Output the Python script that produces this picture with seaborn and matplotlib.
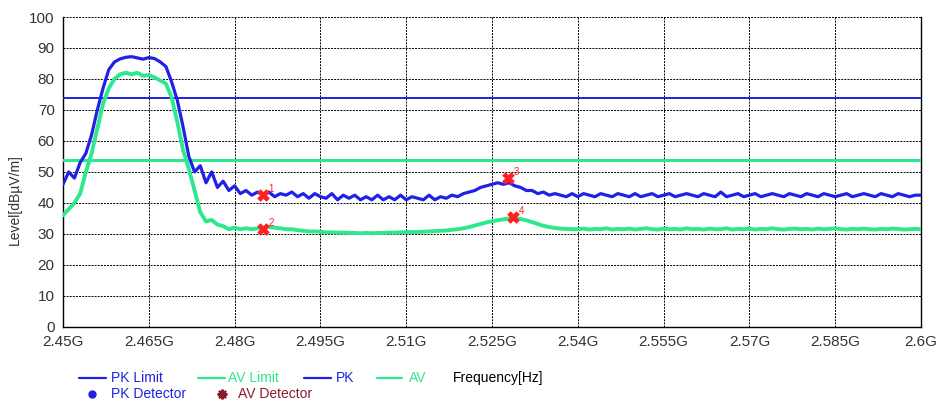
"""Spectrum scan plot: PK / AV level vs frequency with limits and detector marks."""

import numpy as np
import pandas as pd
import matplotlib
matplotlib.use("Agg")
import matplotlib.pyplot as plt
from matplotlib.lines import Line2D
import seaborn as sns

# frequency grid of the scan, GHz (1 MHz steps)
freq_start = 2.45
freq_step = 0.001
n_points = 151

pk_level = [
    46, 50, 48, 53, 56, 62, 70, 77, 83, 85.5,
    86.5, 87, 87.2, 86.8, 86.4, 86.9, 86.6, 85.5, 84, 79,
    73, 64.5, 55, 50, 52, 46.5, 50, 45, 47, 44,
    45.5, 43, 44, 42.5, 43.5, 42.5, 43.5, 42, 43, 42.5,
    43.5, 42, 43, 41.5, 43, 42, 41.5, 43, 41, 42.5,
    41.5, 42.5, 41, 42, 41, 42.5, 41, 42, 41, 42.5,
    41, 42, 41.5, 41, 42.5, 41, 42, 41.5, 42.5, 42,
    43, 43.5, 44, 45, 45.5, 46, 46.5, 46, 46.5, 45.5,
    45, 44, 44, 43, 43.5, 42.5, 43, 42.5, 42, 43,
    42, 43, 42.5, 42, 43, 42.5, 42, 43, 42.5, 42,
    43, 42, 42.5, 43, 42, 42.5, 43, 42, 42.5, 43,
    42.5, 42, 43, 42.5, 42, 43.5, 42, 42.5, 43, 42,
    42.5, 43, 42, 42.5, 43, 42.5, 42, 43, 42.5, 42,
    43, 42.5, 42, 43, 42.5, 42, 42.5, 43, 42, 42.5,
    43, 42.5, 42, 43, 42.5, 42, 43, 42.5, 42, 42.5,
    42.5,
]

av_level = [
    36, 38, 40, 43, 50, 56, 64, 72, 77, 80,
    81.5, 82, 81.5, 82, 81, 81.3, 80.5, 79.5, 78.5, 74,
    66, 57, 51, 44, 37, 34, 34.5, 33, 32.5, 31.5,
    32, 31.5, 31.8, 31.5, 31.8, 32, 32.3, 32, 31.8, 31.5,
    31.5, 31.2, 31, 30.8, 30.8, 30.7, 30.5, 30.5, 30.4, 30.4,
    30.3, 30.3, 30.2, 30.3, 30.2, 30.3, 30.3, 30.4, 30.4, 30.5,
    30.5, 30.6, 30.6, 30.7, 30.8, 30.9, 31, 31.1, 31.3, 31.5,
    31.8, 32.2, 32.7, 33.2, 33.7, 34.1, 34.4, 34.7, 35, 35,
    34.8, 34.4, 33.8, 33.2, 32.6, 32.2, 31.9, 31.7, 31.6, 31.5,
    31.5, 31.7, 31.4, 31.6, 31.5, 31.8, 31.4, 31.6, 31.5, 31.7,
    31.4, 31.6, 31.8, 31.5, 31.4, 31.7, 31.5, 31.6, 31.4, 31.8,
    31.5, 31.6, 31.4, 31.7, 31.5, 31.5, 31.8, 31.4, 31.6, 31.5,
    31.7, 31.4, 31.6, 31.5, 31.8, 31.5, 31.4, 31.6, 31.7, 31.5,
    31.6, 31.4, 31.7, 31.5, 31.6, 31.8, 31.5, 31.4, 31.6, 31.5,
    31.7, 31.5, 31.4, 31.6, 31.5, 31.7, 31.6, 31.4, 31.5, 31.6,
    31.5,
]

pk_limit = 74
av_limit = 54

# detector marks 1..4
mark_freq = [2.485, 2.485, 2.5278, 2.5287]
mark_level = [42.5, 31.5, 48, 35.5]
mark_label = ["1", "2", "3", "4"]

xtick_vals = [2.45, 2.465, 2.48, 2.495, 2.51, 2.525, 2.54, 2.555, 2.57, 2.585, 2.6]
xtick_labels = ["2.45G", "2.465G", "2.48G", "2.495G", "2.51G", "2.525G",
                "2.54G", "2.555G", "2.57G", "2.585G", "2.6G"]

PK_COLOR = "#2020e6"
AV_COLOR = "#2ee88e"
MARK_COLOR = "#ff2020"

sns.set_style("white")
plt.rcParams["font.family"] = ["Liberation Sans Narrow", "Liberation Sans", "DejaVu Sans"]

freq = [freq_start + i * freq_step for i in range(n_points)]
df = pd.DataFrame({"freq": freq, "PK": pk_level, "AV": av_level})
marks = pd.DataFrame({"freq": mark_freq, "level": mark_level})

fig = plt.figure(figsize=(9.36, 4.05), dpi=100)
ax = fig.add_axes([0.0673, 0.193, 0.9167, 0.765])

# limits
ax.axhline(pk_limit, color=PK_COLOR, lw=1.4, zorder=3)
ax.axhline(av_limit, color=AV_COLOR, lw=2.2, zorder=3)

# traces
sns.lineplot(data=df, x="freq", y="PK", ax=ax, color=PK_COLOR, lw=2.3, zorder=4)
sns.lineplot(data=df, x="freq", y="AV", ax=ax, color=AV_COLOR, lw=2.8, zorder=5)

# detector marks
sns.scatterplot(data=marks, x="freq", y="level", ax=ax, marker="X", s=70,
                color=MARK_COLOR, edgecolor=MARK_COLOR, linewidth=0.5, zorder=6)
for mx, my, lab in zip(mark_freq, mark_level, mark_label):
    ax.annotate(lab, (mx, my), xytext=(4, 2), textcoords="offset points",
                color=MARK_COLOR, fontsize=7, zorder=7)

ax.set_xlim(2.45, 2.6)
ax.set_ylim(0, 100)
ax.set_xticks(xtick_vals)
ax.set_xticklabels(xtick_labels)
ax.set_yticks(range(0, 101, 10))
ax.tick_params(axis="both", labelsize=11, colors="black", labelcolor="#333333",
               length=5, direction="inout", width=0.8)
ax.set_xlabel("")
ax.set_ylabel("")

ax.grid(True, color="black", lw=0.7, ls=(0, (2, 1.2)), zorder=1)
for side in ["left", "bottom", "right"]:
    ax.spines[side].set_visible(True)
    ax.spines[side].set_color("black")
    ax.spines[side].set_linewidth(1.0)
ax.spines["top"].set_visible(False)

fig.text(15 / 936, 1 - 200 / 405, "Level[dBµV/m]", rotation=90, ha="center",
         va="center", fontsize=10, color="#333333")


# legend, drawn by hand below the axes
def fx(px):
    return px / 936


def fy(py):
    return 1 - py / 405


row1 = 378
row2 = 394
for x0, x1, col, text, tx in [
    (79, 106, PK_COLOR, "PK Limit", 111),
    (198, 225, AV_COLOR, "AV Limit", 228),
    (304, 331, PK_COLOR, "PK", 336),
    (377, 402, AV_COLOR, "AV", 409),
]:
    fig.add_artist(Line2D([fx(x0), fx(x1)], [fy(row1), fy(row1)], color=col, lw=1.6))
    fig.text(fx(tx), fy(row1), text, color=col, fontsize=10, va="center")
fig.text(fx(453), fy(row1), "Frequency[Hz]", color="black", fontsize=10, va="center")

fig.add_artist(Line2D([fx(92)], [fy(row2)], marker="o", color=PK_COLOR, ms=5, ls=""))
fig.text(fx(111), fy(row2), "PK Detector", color=PK_COLOR, fontsize=10, va="center")
fig.add_artist(Line2D([fx(222)], [fy(row2)], marker=(8, 2, 0), color="#8b1a2a",
                      ms=7, mew=1.5, ls=""))
fig.text(fx(238), fy(row2), "AV Detector", color="#8b1a2a", fontsize=10, va="center")

fig.savefig("out.png", dpi=100)
